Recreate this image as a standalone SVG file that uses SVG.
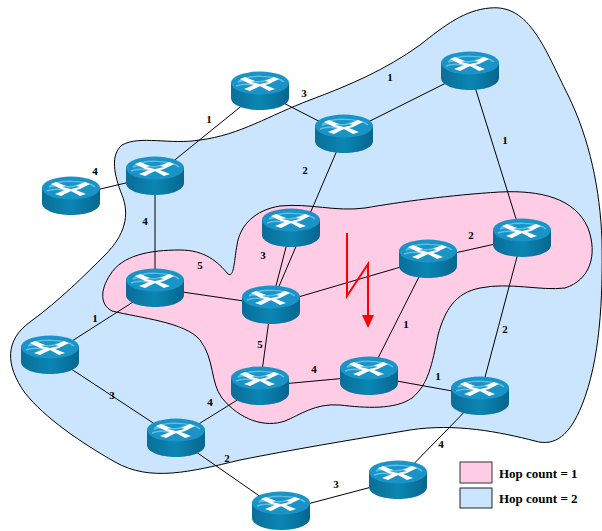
<svg xmlns="http://www.w3.org/2000/svg" width="602" height="531" viewBox="0 0 602 531">
<style>
.lbl{font:bold 11px "Liberation Serif",serif;fill:#000;text-anchor:middle}
.leg{font:bold 13px "Liberation Serif",serif;fill:#000}
.ln{stroke:#000;stroke-width:1;fill:none}
.z{stroke:#000;stroke-width:1}
</style>
<defs>
<linearGradient id="side" x1="0" x2="1" y1="0" y2="0"><stop offset="0" stop-color="#0a6e98"/><stop offset=".5" stop-color="#0a86b4"/><stop offset="1" stop-color="#07668f"/></linearGradient>
<g id="r">
<path d="M-29-8V7C-29 14-16 19 0 19S29 14 29 7V-8Z" fill="url(#side)"/>
<ellipse cx="0" cy="-8" rx="29" ry="11.5" fill="#1a93c6"/>
<path d="M-22-9C-12-13-4-7 4-10S18-14 24-9C16-16-14-17-22-9ZM-24-5C-12-10-6-3 4-6" fill="none" stroke="#5cc0e6" stroke-width="1.5"/>
<path d="M-15-14L-5-10L-9-9L0-7L9-9L5-10L14-14L19-12L9-7L5-6L15-2L9 0L0-5L-10 0L-16-2L-6-6L-10-7L-20-12Z" fill="#fff"/>
</g>
</defs>
<g id="regions">
<path id="region-2" class="z" fill="#cce5ff" d="M490 8C530 4 545 50 568 95C590 140 600 190 602 240C603 300 600 360 582 405C570 435 555 447 535 441C500 432 455 423 410 430C350 440 290 450 240 460C190 472 150 482 115 462C80 442 45 418 25 393C5 365 5 340 30 322C60 300 85 275 105 255C125 235 130 215 122 195C114 175 110 155 122 145C140 135 170 145 200 140C240 135 270 115 310 100C350 85 385 70 420 45C445 25 465 10 490 8Z"/>
<path id="region-1" class="z" fill="#ffcce6" d="M112 311C100 305 100 290 110 275C122 255 150 250 180 250C205 250 218 262 228 274C234 278 234 262 237 245C240 225 255 210 280 206C310 203 335 212 365 208C400 202 450 195 500 192C540 190 575 198 588 228C598 255 590 280 565 288C540 291 510 282 480 288C455 293 445 310 438 335C432 365 428 385 412 398C395 410 365 408 340 405C315 403 300 415 285 421C265 428 240 420 222 398C210 382 215 360 200 340C185 322 140 318 112 311Z"/>
</g>
<g id="connectors" class="ln">
<path d="M260 91L155 176M260 91L344 134M344 134L470 71M470 71L522 238M344 134L271 305M155 176L71 196M155 176L155 288M291 228L271 305M155 288L271 305M271 305L428 259M428 259L522 238M428 259L369 376M522 238L480 396M155 288L50 355M271 305L260 386M260 386L369 376M369 376L480 396M50 355L176 438M176 438L260 386M176 438L281 511M281 511L398 480M398 480L480 396"/>
</g>
<g id="failure">
<path d="M347 233V296L368 264V318" fill="none" stroke="#f00" stroke-width="2"/>
<path d="M362 315H374L368 328Z" fill="#f00"/>
</g>
<g id="n1"><use href="#r" x="260" y="91"/></g>
<g id="n2"><use href="#r" x="470" y="71"/></g>
<g id="n3"><use href="#r" x="344" y="134"/></g>
<g id="n4"><use href="#r" x="155" y="176"/></g>
<g id="n5"><use href="#r" x="71" y="196"/></g>
<g id="n6"><use href="#r" x="291" y="228"/></g>
<g id="n7"><use href="#r" x="428" y="259"/></g>
<g id="n8"><use href="#r" x="522" y="238"/></g>
<g id="n9"><use href="#r" x="155" y="288"/></g>
<g id="n10"><use href="#r" x="271" y="305"/></g>
<g id="n11"><use href="#r" x="50" y="355"/></g>
<g id="n12"><use href="#r" x="260" y="386"/></g>
<g id="n13"><use href="#r" x="369" y="376"/></g>
<g id="n14"><use href="#r" x="480" y="396"/></g>
<g id="n15"><use href="#r" x="176" y="438"/></g>
<g id="n16"><use href="#r" x="281" y="511"/></g>
<g id="n17"><use href="#r" x="398" y="480"/></g>
<g id="labels">
<text class="lbl" x="390" y="81">1</text><text class="lbl" x="304" y="97">3</text><text class="lbl" x="209" y="123">1</text><text class="lbl" x="505" y="144">1</text><text class="lbl" x="305" y="174">2</text><text class="lbl" x="95" y="175">4</text><text class="lbl" x="145" y="225">4</text><text class="lbl" x="471" y="239">2</text><text class="lbl" x="200" y="269">5</text><text class="lbl" x="263" y="259">3</text><text class="lbl" x="95" y="322">1</text><text class="lbl" x="406" y="328">1</text><text class="lbl" x="505" y="333">2</text><text class="lbl" x="260" y="348">5</text><text class="lbl" x="314" y="373">4</text><text class="lbl" x="438" y="380">1</text><text class="lbl" x="112" y="399">3</text><text class="lbl" x="210" y="406">4</text><text class="lbl" x="227" y="462">2</text><text class="lbl" x="336" y="488">3</text><text class="lbl" x="441" y="448">4</text>
</g>
<g id="legend">
<rect x="460" y="462" width="32" height="21" fill="#ffcce6" stroke="#333"/>
<rect x="460" y="488" width="32" height="20" fill="#cce5ff" stroke="#222"/>
<text class="leg" x="499" y="478">Hop count = 1</text>
<text class="leg" x="499" y="503">Hop count = 2</text>
</g>
</svg>
